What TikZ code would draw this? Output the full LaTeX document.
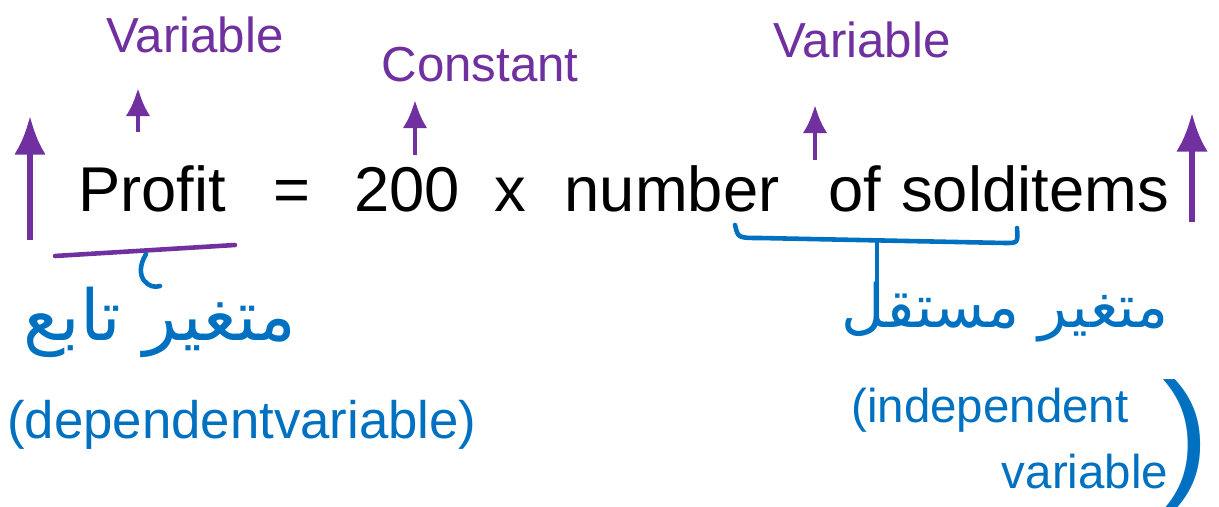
\documentclass[tikz,border=0pt]{standalone}
\usepackage{fontspec}
\setmainfont{Liberation Sans}
\newfontfamily\arabicfont[Script=Arabic]{DejaVu Sans}
\TeXXeTstate=1
\usetikzlibrary{arrows.meta}
\definecolor{hwpurple}{RGB}{112,48,160}
\definecolor{hwblue}{RGB}{0,112,192}

\begin{document}
\begin{tikzpicture}[x=0.01cm,y=-0.01cm,every node/.style={inner sep=0pt},
  word/.style={anchor=base,font=\fontsize{18}{22}\selectfont},
  note/.style={text=hwpurple,font=\fontsize{14}{17}\selectfont},
  arabic/.style={text=hwblue,font=\arabicfont\fontsize{20}{24}\selectfont},
  gloss/.style={text=hwblue,font=\fontsize{15}{18}\selectfont},
  parr/.style={hwpurple,line width=1.3pt,-{Latex[length=8pt,width=7pt]}},
  bigarr/.style={hwpurple,line width=1.8pt,-{Latex[length=11pt,width=9pt]}},
  bline/.style={hwblue,line width=1.3pt,line cap=round}]

\useasboundingbox (0,0) rectangle (1219,507);

% the equation
\node[word] (profit) at (152,212) {Profit};
\node[word] (eq) at (292,212) {=};
\node[word] (c200) at (407,212) {200};
\node[word] (times) at (510,212) {x};
\node[word] (number) at (672,212) {number};
\node[word] (of) at (855,212) {of};
\node[word] (sold) at (1035,212) {solditems};

% purple notes
\node[note] (var1) at (195,35) {Variable};
\node[note] (const) at (480,65) {Constant};
\node[note] (var2) at (862,40) {Variable};

\coordinate (s1) at (138,132); \coordinate (e1) at (138,88);
\coordinate (s2) at (415,155); \coordinate (e2) at (415,100);
\coordinate (s3) at (815,160); \coordinate (e3) at (815,105);
\foreach \i in {1,2,3}
  \draw[parr] (s\i) -- (e\i);

\coordinate (bl1) at (30,240); \coordinate (bl2) at (30,116);
\coordinate (br1) at (1192,222); \coordinate (br2) at (1192,113);
\draw[bigarr] (bl1) -- (bl2);
\draw[bigarr] (br1) -- (br2);

% underline and brace
\coordinate (ul1) at (55,256); \coordinate (ul2) at (235,245);
\draw[hwpurple,line width=1.3pt,line cap=round] (ul1) -- (ul2);
\coordinate (b1) at (735,225); \coordinate (b2) at (1017,228);
\coordinate (bm) at (877,242);
\draw[bline] (b1) .. controls (738,238) .. (760,238) -- (1005,243) .. controls (1018,243) .. (b2);

% arabic and english glosses
\node[arabic] (dep) at (160,322) {\beginR متغير تابع\endR};
\node[arabic,font=\arabicfont\fontsize{17}{20}\selectfont] (indep) at (1005,312) {\beginR متغير مستقل\endR};
\node[gloss] (depname) at (242,425) {(dependentvariable)};
\node[gloss,font=\fontsize{13.5}{16}\selectfont] (indname) at (990,410) {(independent};
\node[gloss,font=\fontsize{13.5}{16}\selectfont] (varname) at (1085,472) {variable};
\node[text=hwblue,font=\fontsize{40}{46}\selectfont] (rpar) at (1186,445) {)};

\coordinate (hk) at (146,254);
\draw[bline] (hk) .. controls (132,278) and (150,290) .. (dep.north);
\draw[bline] (bm) -- (bm |- indep.north);

\end{tikzpicture}
\end{document}
